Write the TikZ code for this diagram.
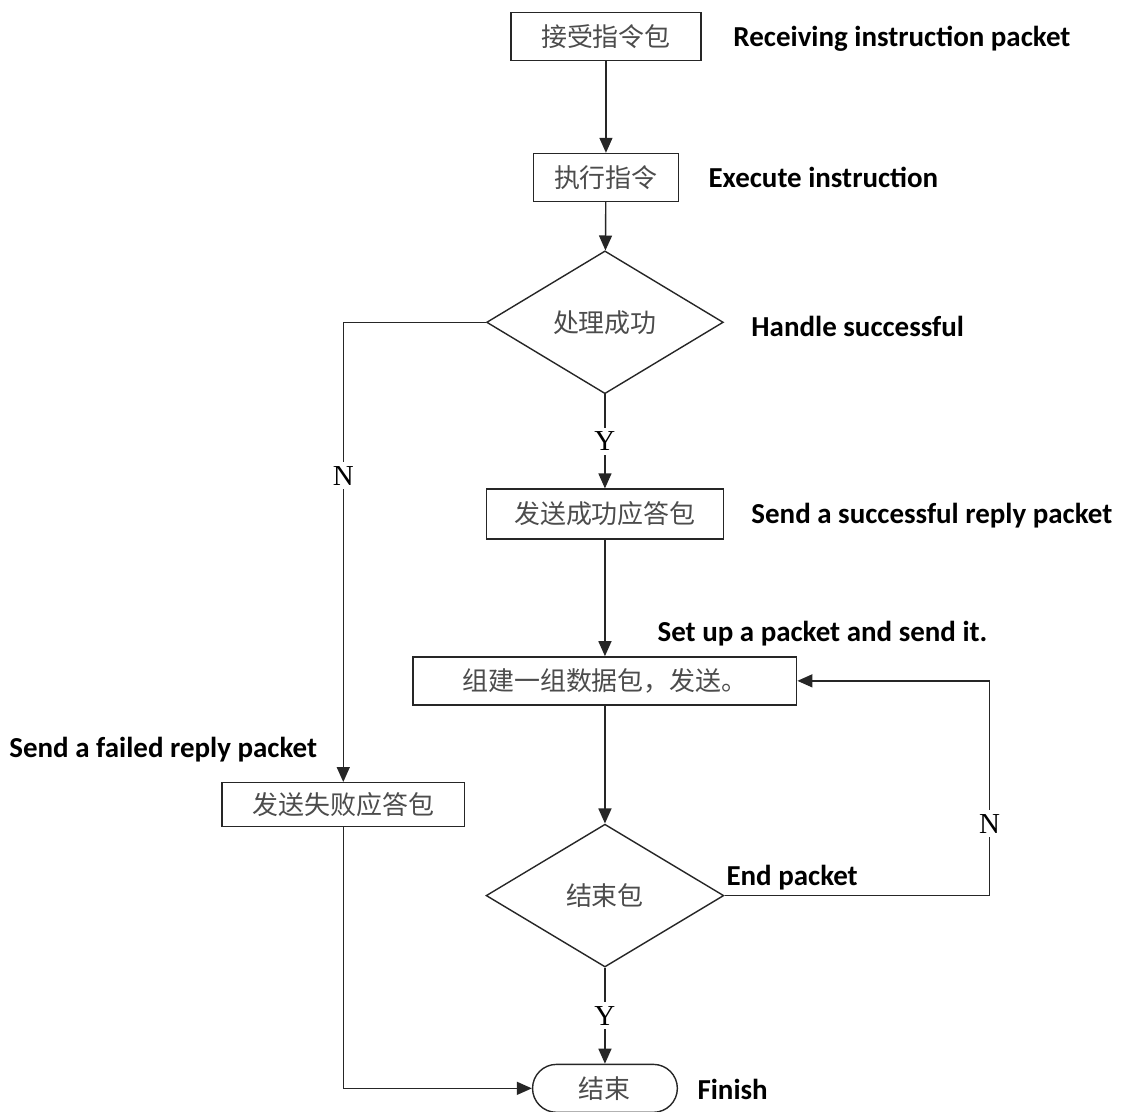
\documentclass[tikz,border=0pt]{standalone}
\usepackage{fontspec}
\setmainfont{Liberation Serif}
\newfontfamily\cjk{Noto Sans CJK SC}
\newfontfamily\labfont{Carlito}
\usetikzlibrary{arrows.meta,shapes.geometric,shapes.misc}
\begin{document}
\begin{tikzpicture}[x=1pt,y=-1pt,
  every path/.style={line width=1.4pt, draw=black!85},
  box/.style={draw, rectangle, inner sep=0pt, font=\cjk\fontsize{26}{30}\selectfont, text=black!70},
  dia/.style={draw, diamond, inner sep=0pt, font=\cjk\fontsize{26}{30}\selectfont, text=black!70},
  term/.style={draw, rounded rectangle, inner sep=0pt, font=\cjk\fontsize{26}{30}\selectfont, text=black!70},
  arr/.style={-{Triangle[width=13pt,length=15pt]}},
  yn/.style={fill=white, inner xsep=1pt, inner ysep=4pt, font=\fontsize{29}{32}\selectfont},
  eng/.style={anchor=west, inner sep=0pt, font=\labfont\bfseries\fontsize{29}{33}\selectfont}
]
\useasboundingbox (0,0) rectangle (1122,1111);
\fill[white] (0,0) rectangle (1122,1111);

\node[box, minimum width=190pt, minimum height=48pt] (b1) at (606,36) {接受指令包};
\node[box, minimum width=145pt, minimum height=48pt] (b2) at (606,177) {执行指令};
\node[dia, minimum width=237pt, minimum height=143pt] (d1) at (605,322) {处理成功};
\node[box, minimum width=237pt, minimum height=50pt] (b3) at (605,514) {发送成功应答包};
\node[box, minimum width=384pt, minimum height=48pt] (b4) at (605,681) {组建一组数据包，发送。};
\node[dia, minimum width=238pt, minimum height=143pt] (d2) at (605,896) {结束包};
\node[box, minimum width=243pt, minimum height=44pt] (b5) at (343,805) {发送失败应答包};
\node[term, minimum width=145pt, minimum height=48pt] (t) at (605,1089) {结束};
\coordinate (c1) at (990,681);

\draw[arr] (b1) -- (b2);
\draw[arr] (b2) -- (d1);
\draw[arr] (d1) -- node[yn]{Y} (b3);
\draw[arr] (b3) -- (b4);
\draw[arr] (b4) -- (d2);
\draw[arr] (d2) -- node[yn]{Y} (t);
\draw[arr] (d1.west) -| node[yn, pos=0.667]{N} (b5.north);
\draw[arr] (b5.south) |- (t.west);
\draw[arr] (d2.east) -| node[yn, pos=0.667]{N} (c1) -- (b4.east);

\node[eng] (e1) at (733,38) {Receiving instruction packet};
\node[eng] (e2) at (708,177) {Execute instruction};
\node[eng] (e3) at (751,326) {Handle successful};
\node[eng] (e4) at (751,516) {Send a successful reply packet};
\node[eng] (e5) at (657,634) {Set up a packet and send it.};
\node[eng] (e6) at (8,750) {Send a failed reply packet};
\node[eng] (e7) at (726,878) {End packet};
\node[eng] (e8) at (697,1090) {Finish};
\end{tikzpicture}
\end{document}
